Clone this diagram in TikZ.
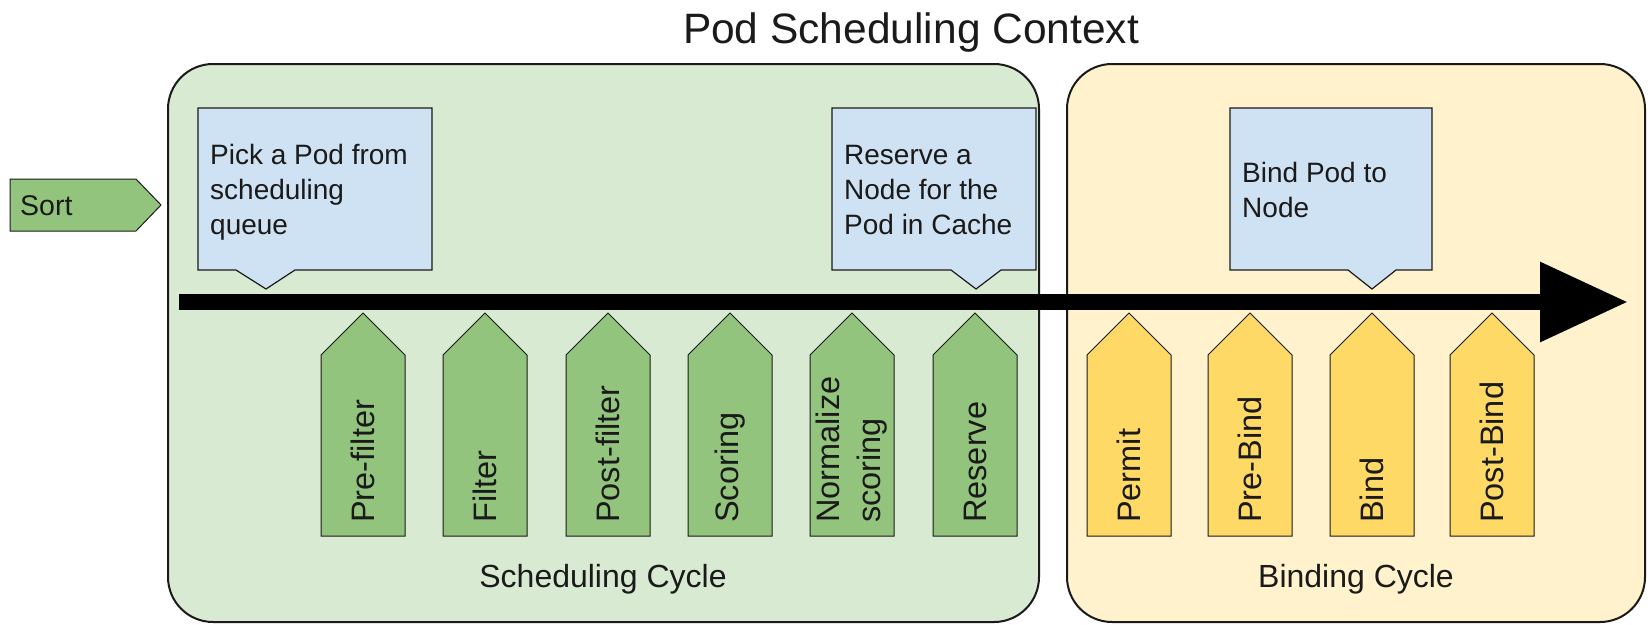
\documentclass[tikz,border=0pt]{standalone}
\usepackage{fontspec}
\setmainfont{Liberation Sans}
\usetikzlibrary{arrows.meta}

\definecolor{schedbg}{HTML}{D9EAD3}
\definecolor{bindbg}{HTML}{FFF2CC}
\definecolor{notebg}{HTML}{CFE2F3}
\definecolor{greenstage}{HTML}{93C47D}
\definecolor{yellowstage}{HTML}{FFD966}
\definecolor{ink}{HTML}{1A1A1A}

\tikzset{
  container/.style={draw=ink, line width=2pt, rounded corners=45pt},
  stageline/.style={draw=ink, line width=1pt, line join=miter},
  stagetext/.style={rotate=90, anchor=west, inner sep=0pt, align=left,
    text=ink, font=\fontsize{32.5}{41}\selectfont},
  noteline/.style={draw=ink, line width=1.2pt, fill=notebg},
  notetext/.style={anchor=base west, inner sep=0pt, align=left, text=ink,
    font=\fontsize{28}{35}\selectfont},
  cyclelabel/.style={anchor=base, inner sep=0pt, text=ink,
    font=\fontsize{32}{38}\selectfont},
  flow/.style={line width=16pt, draw=black,
    -{Triangle[length=88pt,width=76pt]}}
}

% upward pentagon stage: name, centre x, fill colour, label
\newcommand\stagebox[4]{%
  \path[stageline, fill=#3] (#2-42,536) -- (#2-42,355) -- (#2,313)
    -- (#2+42,355) -- (#2+42,536) -- cycle;
  \node[stagetext] (#1) at (#2,523) {#4};
}

% callout: name, left, right, pointer left, pointer tip, pointer right,
% baseline of the last text line, text
\newcommand\calloutbox[8]{%
  \path[noteline] (#2,108) -- (#3,108) -- (#3,270) -- (#6,270) -- (#5,289)
    -- (#4,270) -- (#2,270) -- cycle;
  \node[notetext] (#1) at (#2+12,#7) {#8};
}

\begin{document}
\begin{tikzpicture}[x=1pt,y=-1pt]
\useasboundingbox (0,0) rectangle (1648,624);

% title
\node[anchor=base, inner sep=0pt, text=ink, font=\fontsize{42.5}{50}\selectfont]
  (title) at (911,43) {Pod Scheduling Context};

% the two cycles
\path[container, fill=schedbg] (168,64) rectangle (1039,622);
\path[container, fill=bindbg] (1067,64) rectangle (1645,622);
\node[cyclelabel] (schedlabel) at (603,587) {Scheduling Cycle};
\node[cyclelabel] (bindlabel) at (1356,587) {Binding Cycle};

% sort stage in front of the scheduling cycle
\path[stageline, fill=greenstage] (10,179) -- (136,179) -- (161,205)
  -- (136,231) -- (10,231) -- cycle;
\node[anchor=base west, inner sep=0pt, text=ink,
  font=\fontsize{28.5}{34}\selectfont] (sort) at (20,215) {Sort};

% callouts
\calloutbox{pick}{198}{432}{236}{266}{295}{234}{Pick a Pod from\\scheduling\\queue}
\calloutbox{reserve}{832}{1036}{951}{976}{1001}{234}{Reserve a\\Node for the\\Pod in Cache}
\calloutbox{bindnote}{1230}{1432}{1348}{1372}{1396}{217}{Bind Pod to\\Node}

% main flow arrow
\coordinate (flowstart) at (179,302);
\coordinate (flowend) at (1628,302);
\draw[flow] (flowstart) -- (flowend);

% scheduling cycle extension points
\stagebox{prefilter}{363}{greenstage}{Pre-filter}
\stagebox{filter}{485}{greenstage}{Filter}
\stagebox{postfilter}{608}{greenstage}{Post-filter}
\stagebox{scoring}{730}{greenstage}{Scoring}
\stagebox{normalize}{852}{greenstage}{Normalize\\scoring}
\stagebox{reservestage}{975}{greenstage}{Reserve}

% binding cycle extension points
\stagebox{permit}{1129}{yellowstage}{Permit}
\stagebox{prebind}{1250}{yellowstage}{Pre-Bind}
\stagebox{bind}{1372}{yellowstage}{Bind}
\stagebox{postbind}{1492}{yellowstage}{Post-Bind}
\end{tikzpicture}
\end{document}
